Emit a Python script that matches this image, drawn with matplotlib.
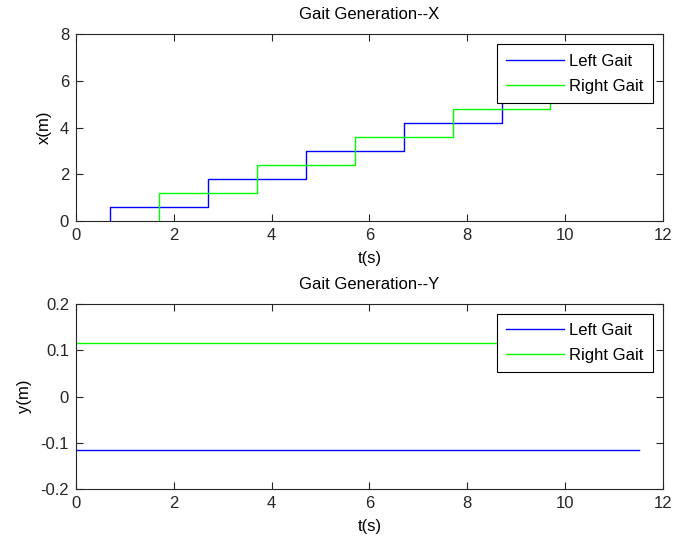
import matplotlib
matplotlib.use("Agg")
from matplotlib import pyplot
import numpy as np

# step times and foot positions
left_t = [0.7, 0.7, 2.7, 4.7, 6.7, 8.7, 10.7, 11.5]
left_x = [0.0, 0.6, 1.8, 3.0, 4.2, 5.4, 6.6, 6.6]
right_t = [1.7, 1.7, 3.7, 5.7, 7.7, 9.7, 11.5]
right_x = [0.0, 1.2, 2.4, 3.6, 4.8, 6.0, 6.0]

y_t = [0.0, 11.5]
left_y = [-0.115, -0.115]
right_y = [0.115, 0.115]

pyplot.rcParams['font.family'] = ['Liberation Sans', 'DejaVu Sans']
pyplot.rcParams['font.size'] = 12

fig = pyplot.figure(figsize=(6.75, 5.44), dpi=100)
ax1 = fig.add_axes([0.1126, 0.5938, 0.8696, 0.343])
ax2 = fig.add_axes([0.1126, 0.1011, 0.8696, 0.340])

ax1.step(left_t, left_x, where='post', color=(0, 0, 1), lw=1, label='Left Gait')
ax1.step(right_t, right_x, where='post', color=(0, 1, 0), lw=1, label='Right Gait')
ax1.set_xlim(0, 12)
ax1.set_ylim(0, 8)
ax1.set_title("Gait Generation--X", fontsize=12, pad=11)
ax1.set_xlabel("t(s)", labelpad=6)
ax1.set_ylabel("x(m)", labelpad=6)

ax2.plot(y_t, left_y, color=(0, 0, 1), lw=1, label='Left Gait')
ax2.plot(y_t, right_y, color=(0, 1, 0), lw=1, label='Right Gait')
ax2.set_xlim(0, 12)
ax2.set_ylim(-0.2, 0.2)
ax2.set_yticks([-0.2, -0.1, 0, 0.1, 0.2])
ax2.set_yticklabels(['-0.2', '-0.1', '0', '0.1', '0.2'])
ax2.set_title("Gait Generation--Y", fontsize=12, pad=11)
ax2.set_xlabel("t(s)", labelpad=6)
ax2.set_ylabel("y(m)", labelpad=6)

for ax in (ax1, ax2):
    ax.set_xticks([0, 2, 4, 6, 8, 10, 12])
    ax.tick_params(direction='in', top=True, right=True, length=5, width=0.8,
                   colors='#262626', labelcolor='#262626', pad=5)
    for s in ax.spines.values():
        s.set_color('#262626')
        s.set_linewidth(0.8)
    leg = ax.legend(loc='upper right', fancybox=False, framealpha=1,
                    edgecolor='black', handlelength=3.5, borderaxespad=0.6,
                    labelspacing=0.6, handletextpad=0.3, borderpad=0.55)
    leg.get_frame().set_linewidth(0.8)

pyplot.savefig("out.png", dpi=100)
